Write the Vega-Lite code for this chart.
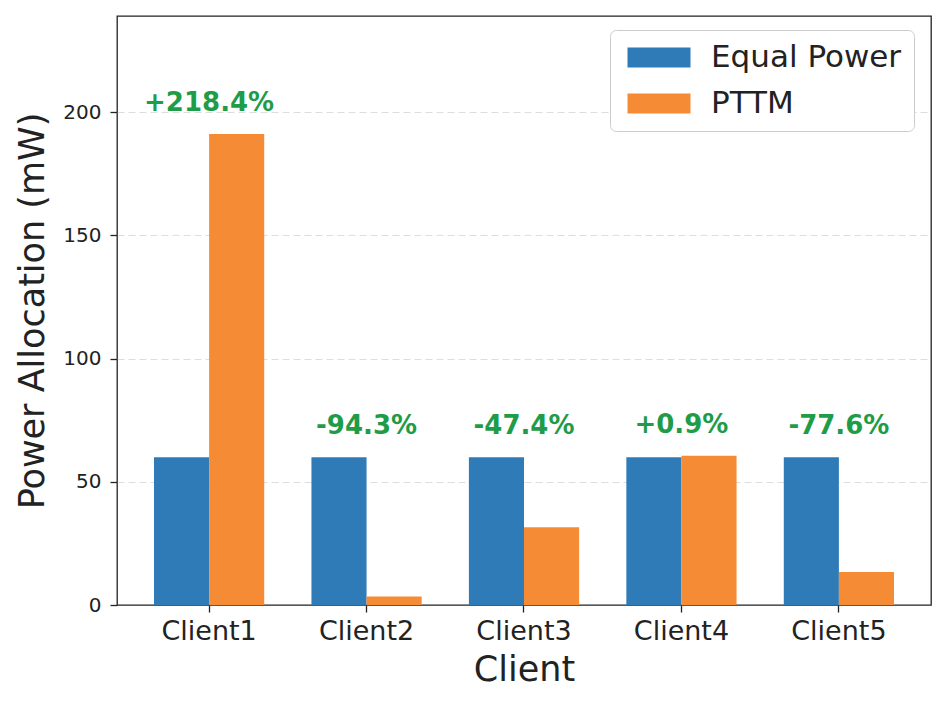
{
  "$schema": "https://vega.github.io/schema/vega-lite/v6.json",
  "width": 814,
  "height": 589,
  "autosize": {"type": "none"},
  "padding": {"left": 117, "top": 16, "right": 15, "bottom": 102},
  "config": {
    "font": "DejaVu Sans",
    "view": {"stroke": "#222222", "strokeWidth": 1.3},
    "axis": {
      "labelFont": "DejaVu Sans",
      "titleFont": "DejaVu Sans",
      "labelColor": "#222222",
      "titleColor": "#222222",
      "tickColor": "#222222",
      "domainColor": "#222222",
      "titleFontWeight": "normal"
    }
  },
  "datasets": {
    "bars": [
      {"client": "Client1", "method": "Equal Power", "power": 60},
      {"client": "Client1", "method": "PTTM", "power": 191.1},
      {"client": "Client2", "method": "Equal Power", "power": 60},
      {"client": "Client2", "method": "PTTM", "power": 3.42},
      {"client": "Client3", "method": "Equal Power", "power": 60},
      {"client": "Client3", "method": "PTTM", "power": 31.56},
      {"client": "Client4", "method": "Equal Power", "power": 60},
      {"client": "Client4", "method": "PTTM", "power": 60.54},
      {"client": "Client5", "method": "Equal Power", "power": 60},
      {"client": "Client5", "method": "PTTM", "power": 13.44}
    ],
    "labels": [
      {"client": "Client1", "top": 191.1, "label": "+218.4%"},
      {"client": "Client2", "top": 60, "label": "-94.3%"},
      {"client": "Client3", "top": 60, "label": "-47.4%"},
      {"client": "Client4", "top": 60.54, "label": "+0.9%"},
      {"client": "Client5", "top": 60, "label": "-77.6%"}
    ]
  },
  "layer": [
    {
      "data": {"name": "bars"},
      "mark": {"type": "bar"},
      "encoding": {
        "x": {
          "field": "client", "type": "nominal",
          "scale": {"paddingInner": 0.3, "paddingOuter": 0.235},
          "axis": {
            "title": "Client", "titleFontSize": 35, "titlePadding": 8,
            "labelFontSize": 27, "labelAngle": 0, "labelPadding": 6,
            "tickSize": 7, "tickWidth": 1.3, "domain": false
          }
        },
        "xOffset": {"field": "method", "type": "nominal", "scale": {"paddingInner": 0, "paddingOuter": 0}},
        "y": {
          "field": "power", "type": "quantitative",
          "scale": {"domain": [0, 239], "nice": false, "zero": true},
          "axis": {
            "title": "Power Allocation (mW)", "titleFontSize": 35, "titlePadding": 12,
            "labelFontSize": 20, "labelPadding": 9,
            "values": [0, 50, 100, 150, 200],
            "tickSize": 7, "tickWidth": 1.3, "domain": false,
            "grid": true, "gridDash": [7, 4], "gridColor": "#dddddd", "gridWidth": 1.2,
            "gridOpacity": {"condition": {"test": "datum.value === 0", "value": 0}, "value": 1}
          }
        },
        "color": {
          "field": "method", "type": "nominal",
          "scale": {"domain": ["Equal Power", "PTTM"], "range": ["#2f7bb8", "#f68b35"]},
          "legend": {
            "title": null,
            "orient": "none",
            "legendX": 493,
            "legendY": 14,
            "padding": 12,
            "fillColor": "#ffffff",
            "strokeColor": "#cccccc",
            "cornerRadius": 6,
            "symbolType": "M-1,-1H5.3V1H-1Z",
            "symbolSize": 400,
            "symbolStrokeWidth": 0,
            "symbolOpacity": 1,
            "labelFontSize": 31,
            "labelFont": "DejaVu Sans",
            "labelColor": "#222222",
            "labelOffset": 58,
            "labelLimit": 400,
            "rowPadding": 14
          }
        }
      }
    },
    {
      "data": {"name": "labels"},
      "mark": {"type": "text", "fontSize": 26, "fontWeight": "bold", "color": "#1e9c48", "baseline": "alphabetic", "dy": -23, "font": "DejaVu Sans"},
      "encoding": {
        "x": {"field": "client", "type": "nominal"},
        "y": {"field": "top", "type": "quantitative"},
        "text": {"field": "label"}
      }
    }
  ]
}
